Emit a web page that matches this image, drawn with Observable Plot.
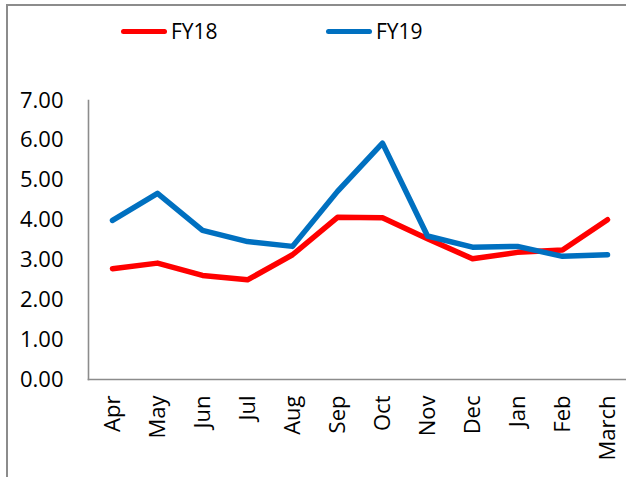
<!DOCTYPE html>
<html>
<head>
<meta charset="utf-8">
<script src="https://cdn.jsdelivr.net/npm/d3@7"></script>
<script src="https://cdn.jsdelivr.net/npm/@observablehq/plot@0.6"></script>
<style>
  html, body { margin: 0; padding: 0; background: #fff; }
  #wrap { position: relative; width: 626px; height: 477px; overflow: hidden; background: #fff; }
  .bl { position: absolute; left: 6px; top: 4px; width: 2px; height: 480px; background: #8c8c8c; }
  .bt { position: absolute; left: 6px; top: 4px; width: 630px; height: 2px; background: #8c8c8c; }
  .leg { position: absolute; top: 17px; display: flex; align-items: center; font-family: "Open Sans", sans-serif; font-size: 21px; color: #000; }
  .sw { width: 46px; height: 5px; border-radius: 3px; margin-right: 4px; }
  #chart { position: absolute; left: 0; top: 0; }
</style>
</head>
<body>
<div id="wrap">
  <div class="bl"></div>
  <div class="bt"></div>
  <div class="leg" style="left:121px"><div class="sw" style="background:#ff0000"></div><span>FY18</span></div>
  <div class="leg" style="left:326px"><div class="sw" style="background:#0070c0"></div><span>FY19</span></div>
  <div id="chart"></div>
</div>
<script>
const months = ["Apr","May","Jun","Jul","Aug","Sep","Oct","Nov","Dec","Jan","Feb","March"];
const fy18 = [2.78, 2.92, 2.61, 2.50, 3.13, 4.07, 4.06, 3.53, 3.03, 3.19, 3.25, 4.01];
const fy19 = [3.99, 4.67, 3.74, 3.46, 3.34, 4.72, 5.93, 3.60, 3.32, 3.34, 3.09, 3.13];
const yTicks = [0, 1, 2, 3, 4, 5, 6, 7];

const rows18 = months.map((m, i) => ({month: m, value: fy18[i]}));
const rows19 = months.map((m, i) => ({month: m, value: fy19[i]}));

const plot = Plot.plot({
  width: 626,
  height: 477,
  marginLeft: 88,
  marginRight: 0,
  marginTop: 100,
  marginBottom: 98,
  style: {fontFamily: "Open Sans, sans-serif", fontSize: "22px", color: "#000", background: "transparent", overflow: "visible"},
  x: {type: "point", domain: months, range: [110.7, 609.3], padding: 0},
  y: {domain: [0, 7]},
  marks: [
    Plot.frame({anchor: "left", stroke: "#8c8c8c", strokeWidth: 1.6}),
    Plot.frame({anchor: "bottom", stroke: "#8c8c8c", strokeWidth: 1.6}),
    Plot.axisY({ticks: yTicks, tickFormat: d3.format(".2f"), tickSize: 0, tickPadding: 25, label: null, fontSize: 22}),
    Plot.axisX({tickSize: 0, tickPadding: 16, tickRotate: -90, label: null, fontSize: 22}),
    Plot.line(rows18, {x: "month", y: "value", stroke: "#ff0000", strokeWidth: 5.5, strokeLinejoin: "round", strokeLinecap: "round"}),
    Plot.line(rows19, {x: "month", y: "value", stroke: "#0070c0", strokeWidth: 5.5, strokeLinejoin: "round", strokeLinecap: "round"})
  ]
});
document.getElementById("chart").appendChild(plot);
</script>
</body>
</html>
